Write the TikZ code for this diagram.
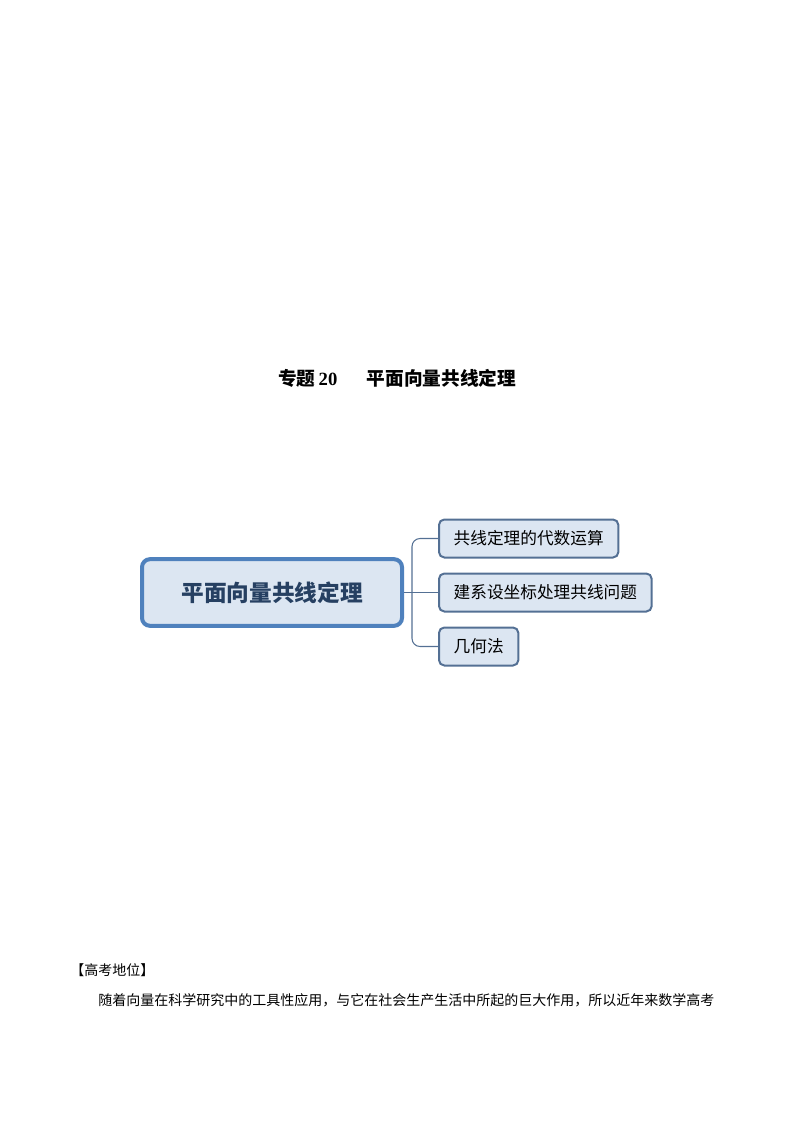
\documentclass[tikz,border=0pt]{standalone}
\usepackage{fontspec}
\setmainfont{Liberation Serif}
\newfontfamily\cjk{Noto Sans CJK SC}
\usetikzlibrary{positioning}
\definecolor{boxfill}{RGB}{220,230,242}
\definecolor{rootline}{RGB}{79,129,189}
\definecolor{roottext}{RGB}{38,64,98}
\definecolor{branchline}{RGB}{84,112,148}

\begin{document}
\begin{tikzpicture}[x=0.75pt,y=-0.75pt,
node distance= 10.5pt and 25.5pt,
topic/.style  = {minimum width=195pt, minimum height=50pt,
                 draw=rootline, line width=3pt, rounded corners=6pt,
                 fill=boxfill, text=roottext,
                 font=\cjk\bfseries\fontsize{17}{20}\selectfont},
branch/.style = {draw=branchline, line width=1.5pt, rounded corners=4pt,
                 fill=boxfill, minimum height=28.5pt, inner xsep=11pt,
                 font=\cjk\fontsize{12.5}{15}\selectfont},
Link/.style   = {draw=branchline, line width=0.8pt, rounded corners=6pt},
para/.style   = {anchor=west, inner sep=0pt,
                 font=\cjk\fontsize{10.5}{13}\selectfont},
                    ]
\useasboundingbox (0,0) rectangle (794,1123);
% title
\node[anchor=west, inner sep=0pt, font=\bfseries\fontsize{14}{17}\selectfont] (t)
     at (278,378) {{\cjk 专题}\,20\hspace{22pt}{\cjk 平面向量共线定理}};
% mind map
\node[topic] (root) at (272,592.5) {平面向量共线定理};
\node[branch,right=of root]                          (b) {建系设坐标处理共线问题};
\node[branch,above right=10.5pt and 0pt of b.north west] (a) {共线定理的代数运算};
\node[branch,below right=10.5pt and 0pt of b.south west] (c) {几何法};
\coordinate[right=6pt of root] (fork);

\draw[Link]    (root) -- (b);
\draw[Link]    (fork) |- (a);
\draw[Link]    (fork) |- (c);
% text below
\node[para] (h) at (70,970)  {【高考地位】};
\node[para] (p) at (98,1000) {随着向量在科学研究中的工具性应用，与它在社会生产生活中所起的巨大作用，所以近年来数学高考};
\end{tikzpicture}
\end{document}
